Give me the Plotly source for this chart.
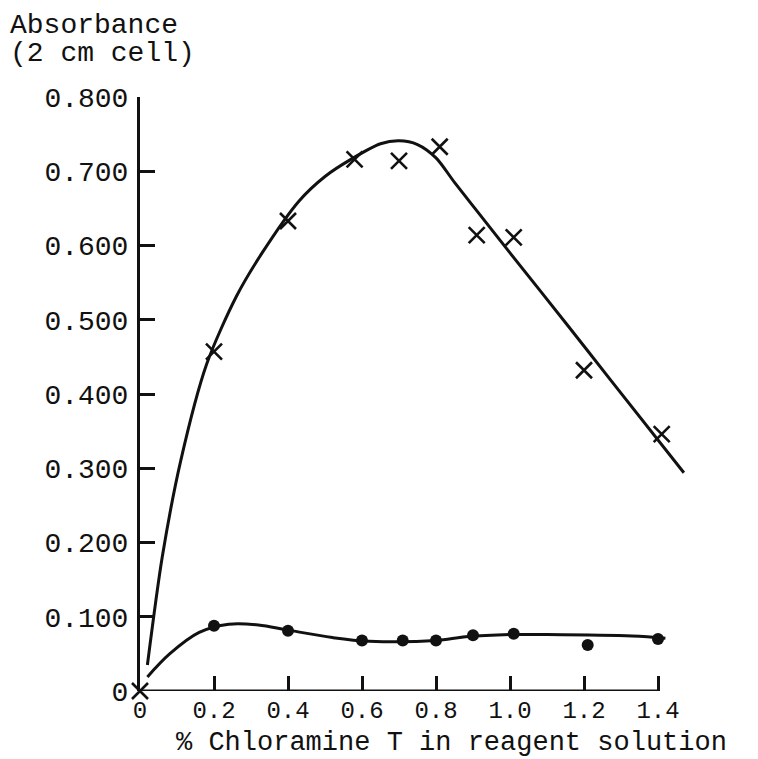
import plotly.graph_objects as go

# Measured points (crosses) and dots
cross_x = [0, 0.2, 0.4, 0.58, 0.70, 0.81, 0.91, 1.01, 1.2, 1.41]
cross_y = [0, 0.457, 0.633, 0.716, 0.714, 0.733, 0.614, 0.611, 0.432, 0.346]
dot_x = [0.2, 0.4, 0.6, 0.71, 0.80, 0.90, 1.01, 1.21, 1.40]
dot_y = [0.088, 0.081, 0.068, 0.068, 0.068, 0.075, 0.077, 0.062, 0.070]

# Hand-drawn smooth curves
cross_curve_x = [0.02, 0.06, 0.11, 0.18, 0.26, 0.33, 0.43, 0.50, 0.57, 0.65, 0.70, 0.75, 0.80, 0.85,
                 0.91, 1.0, 1.155, 1.27, 1.47]
cross_curve_y = [0.035, 0.18, 0.31, 0.44, 0.531, 0.590, 0.660, 0.693, 0.716, 0.737, 0.741, 0.736, 0.718, 0.685,
                 0.647, 0.590, 0.493, 0.420, 0.294]
dot_curve_x = [0.02, 0.08, 0.16, 0.24, 0.32, 0.40, 0.52, 0.62, 0.80, 0.88, 1.0, 1.1, 1.33, 1.42]
dot_curve_y = [0.019, 0.050, 0.079, 0.090, 0.089, 0.082, 0.072, 0.067, 0.068, 0.073, 0.076, 0.076, 0.074, 0.071]

x_ticks = [0, 0.2, 0.4, 0.6, 0.8, 1.0, 1.2, 1.4]
x_tick_labels = ["0", "0.2", "0.4", "0.6", "0.8", "1.0", "1.2", "1.4"]
y_ticks = [0, 0.1, 0.2, 0.3, 0.4, 0.5, 0.6, 0.7, 0.8]
y_tick_labels = ["0", "0.100", "0.200", "0.300", "0.400", "0.500", "0.600", "0.700", "0.800"]

FONT = "Liberation Mono"
INK = "#111111"

# page body has an 8px margin, so figure coordinates = target - 8
L, T = 132, 89
PW, PH = 555, 594
R = 758 - L - PW
B = 759 - T - PH

fig = go.Figure()
fig.add_trace(go.Scatter(x=cross_curve_x, y=cross_curve_y, mode="lines",
                         line=dict(color=INK, width=3, shape="spline", smoothing=0.8),
                         hoverinfo="skip", showlegend=False))
fig.add_trace(go.Scatter(x=dot_curve_x, y=dot_curve_y, mode="lines",
                         line=dict(color=INK, width=3, shape="spline", smoothing=1.0),
                         hoverinfo="skip", showlegend=False))
fig.add_trace(go.Scatter(x=cross_x, y=cross_y, mode="markers", cliponaxis=False,
                         marker=dict(symbol="x-thin", size=16, line=dict(color=INK, width=2.6)),
                         showlegend=False))
fig.add_trace(go.Scatter(x=dot_x, y=dot_y, mode="markers", cliponaxis=False,
                         marker=dict(symbol="circle", size=12, color=INK),
                         showlegend=False))

# x axis line only up to the last tick
fig.add_shape(type="line", xref="x", yref="y", x0=x_ticks[0], x1=x_ticks[-1], y0=0, y1=0,
              line=dict(color=INK, width=3))

def px_x(p):  # target pixel -> paper x
    return (p - 8 - L) / PW

def px_y(p):  # target pixel -> paper y
    return (T + PH - (p - 8)) / PH

fig.update_layout(
    width=758, height=759,
    margin=dict(l=L, r=R, t=T, b=B, autoexpand=False),
    paper_bgcolor="white", plot_bgcolor="white",
    font=dict(family=FONT, color=INK, size=28),
    xaxis=dict(range=[0, 1.5], showgrid=False, zeroline=False, showline=False,
               tickmode="array", tickvals=x_ticks, ticktext=x_tick_labels,
               ticks="inside", ticklen=15, tickwidth=2.5, tickcolor=INK,
               tickfont=dict(family=FONT, size=24, color=INK), ticklabelstandoff=2),
    yaxis=dict(range=[0, 0.8], showgrid=False, zeroline=False, showline=True,
               linecolor=INK, linewidth=3,
               tickmode="array", tickvals=y_ticks, ticktext=y_tick_labels,
               ticks="inside", ticklen=15, tickwidth=2.5, tickcolor=INK,
               tickfont=dict(family=FONT, size=28, color=INK), ticklabelstandoff=3),
    annotations=[
        dict(text="Absorbance", xref="paper", yref="paper",
             x=px_x(8), y=px_y(26), xanchor="left", yanchor="middle",
             showarrow=False, font=dict(family=FONT, size=28, color=INK)),
        dict(text="(2 cm cell)", xref="paper", yref="paper",
             x=px_x(8), y=px_y(54), xanchor="left", yanchor="middle",
             showarrow=False, font=dict(family=FONT, size=28, color=INK)),
        dict(text="% Chloramine T in reagent solution", xref="paper", yref="paper",
             x=px_x(451), y=px_y(743), xanchor="center", yanchor="middle",
             showarrow=False, font=dict(family=FONT, size=27, color=INK)),
    ],
)

fig.write_html("out.html")
